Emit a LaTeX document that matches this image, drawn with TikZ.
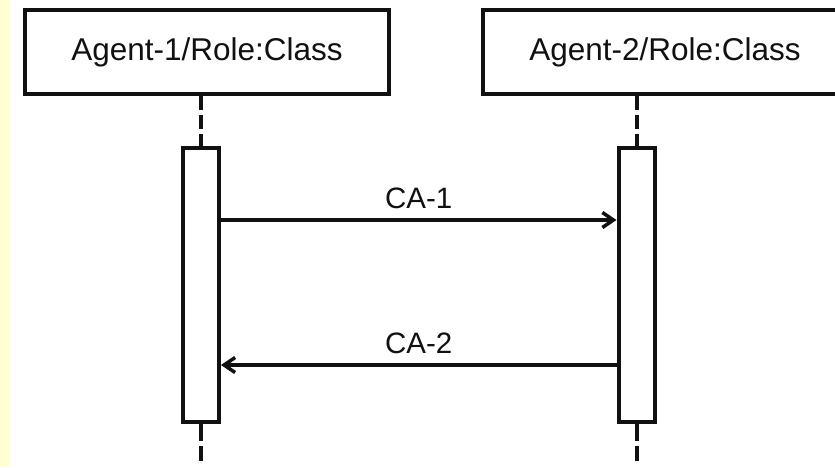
\documentclass[tikz,border=0pt]{standalone}
\usepackage{fontspec}
\setmainfont{Liberation Sans}
\usetikzlibrary{arrows.meta}
\definecolor{strip}{HTML}{FFFFD2}
\definecolor{ink}{HTML}{111111}
\begin{document}
\begin{tikzpicture}[x=1pt,y=-1pt,
  agentbox/.style={draw=ink,line width=4.5pt,fill=white,minimum width=364pt,minimum height=84pt,inner sep=0pt,
    font=\fontsize{31.5}{36}\selectfont,text=ink},
  actbox/.style={draw=ink,line width=4pt,fill=white,minimum width=36pt,minimum height=274pt,inner sep=0pt},
  lifeline/.style={draw=ink,line width=4pt,dash pattern=on 14pt off 5pt},
  lowline/.style={draw=ink,line width=4pt,dash pattern=on 17pt off 5pt},
  msg/.style={draw=ink,line width=3.5pt,-{Straight Barb[length=11pt,width=15pt,line width=3.5pt]}},
  msglabel/.style={font=\fontsize{29.5}{34}\selectfont,text=ink,inner sep=0pt}]
\useasboundingbox (0,0) rectangle (835,467);
\clip (0,0) rectangle (835,467);
\fill[white] (0,0) rectangle (835,467);
\fill[strip] (0,0) rectangle (10,467);
\node[agentbox] (agent1) at (207,52) {Agent-1/Role:Class};
\node[agentbox] (agent2) at (665,52) {Agent-2/Role:Class};
\node[actbox] (act1) at (201,285) {};
\node[actbox] (act2) at (636.5,285) {};
\coordinate (end1) at (201,461);
\coordinate (end2) at (636.5,461);
\coordinate (m1) at (0,220);
\coordinate (m2) at (0,365);
\draw[lifeline] (act1.north |- agent1.south) -- (act1.north);
\draw[lifeline] (act2.north |- agent2.south) -- (act2.north);
\draw[lowline] (act1.south) -- (end1);
\draw[lowline] (act2.south) -- (end2);
\draw[msg] (act1.east |- m1) -- (act2.west |- m1) node[midway,above=9pt,msglabel] {CA-1};
\draw[msg] (act2.west |- m2) -- (act1.east |- m2) node[midway,above=9pt,msglabel] {CA-2};
\end{tikzpicture}
\end{document}
